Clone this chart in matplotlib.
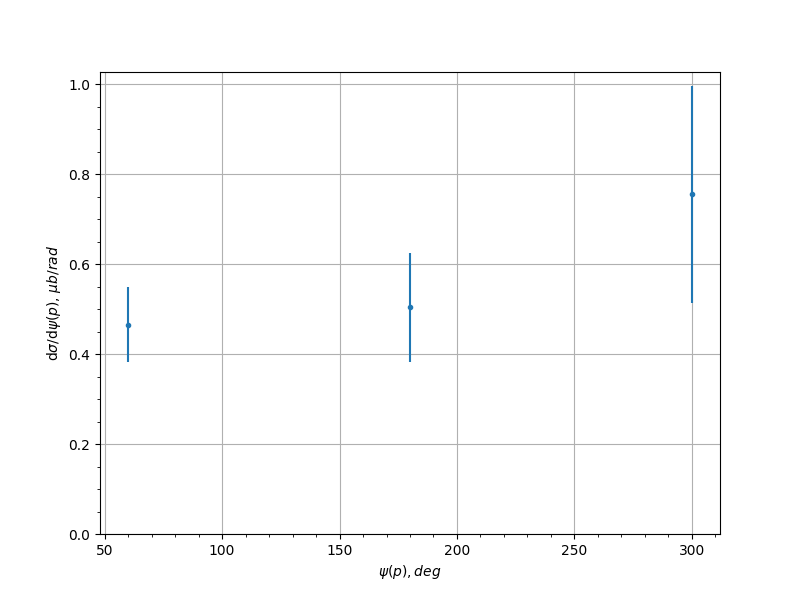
import matplotlib
matplotlib.use('Agg')
import matplotlib.pyplot as plt
from matplotlib.ticker import AutoMinorLocator

psi = [60, 180, 300]
dsig = [0.465, 0.504, 0.755]
err = [0.083, 0.121, 0.241]

fig, ax = plt.subplots(figsize=(8, 6), dpi=100)
ax.errorbar(psi, dsig, yerr=err, fmt='.', color='#1f77b4')
ax.set_ylim(bottom=0)
ax.grid(True)
ax.xaxis.set_minor_locator(AutoMinorLocator())
ax.yaxis.set_minor_locator(AutoMinorLocator())
ax.set_xlabel(r'$\psi(p), deg$')
ax.set_ylabel(r'd$\sigma$/d$\psi(p)$, $\mu b/rad$')
fig.savefig('out.png')
